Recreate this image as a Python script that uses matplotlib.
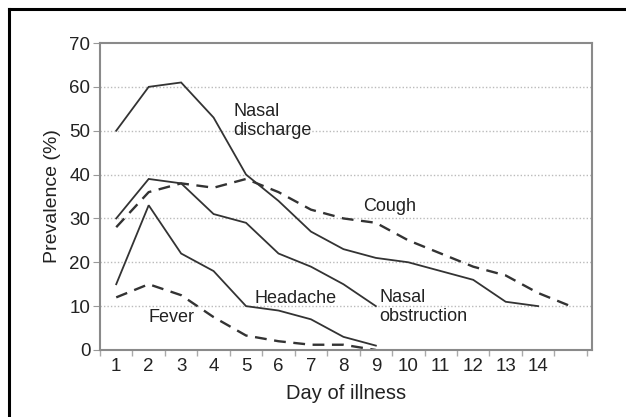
import matplotlib
matplotlib.use("Agg")
import matplotlib.pyplot as plt
from matplotlib.lines import Line2D

plt.rcParams['font.family'] = ['Liberation Sans', 'DejaVu Sans']

days = list(range(1, 16))
nasal_discharge = [50, 60, 61, 53, 40, 34, 27, 23, 21, 20, 18, 16, 11, 10]
nasal_obstruction = [30, 39, 38, 31, 29, 22, 19, 15, 10]
headache = [15, 33, 22, 18, 10, 9, 7, 3, 1]
cough = [28, 36, 38, 37, 39, 36, 32, 30, 29, 25, 22, 19, 17, 13, 10]
fever = [12, 15, 12.5, 7.5, 3.3, 2, 1.2, 1.2, 0]
x_tick_labels = [str(d) for d in range(1, 15)]
y_ticks = [0, 10, 20, 30, 40, 50, 60, 70]

fig = plt.figure(figsize=(6.26, 4.17), dpi=100)
ax = fig.add_axes([100/626, 1-350/417, 492/626, 307/417])

line_col = '#333333'
solid_kw = dict(color=line_col, lw=1.3, solid_joinstyle='miter')
dash_kw = dict(color=line_col, lw=1.7, linestyle=(0, (5, 3.2)))

ax.plot(days[:len(nasal_discharge)], nasal_discharge, **solid_kw)
ax.plot(days[:len(nasal_obstruction)], nasal_obstruction, **solid_kw)
ax.plot(days[:len(headache)], headache, **solid_kw)
ax.plot(days[:len(cough)], cough, **dash_kw)
ax.plot(days[:len(fever)], fever, **dash_kw)

ax.set_xlim(0.5, 15.66)
ax.set_ylim(0, 70)
ax.set_yticks(y_ticks)
ax.set_xticks(range(1, 15))
ax.set_xticklabels(x_tick_labels)
ax.set_xticks([i + 0.5 for i in range(0, 16)], minor=True)
ax.tick_params(axis='x', which='major', length=0, labelsize=13.5, pad=6, colors='#222222')
ax.tick_params(axis='x', which='minor', length=4, color='#aaaaaa', width=1)
ax.tick_params(axis='y', which='major', length=5, color='#999999', labelsize=13.5, pad=2, labelcolor='#222222')

for y in y_ticks[1:-1]:
    ax.axhline(y, color='#bbbbbb', lw=1, linestyle=(0, (1, 1.5)), zorder=0)

for s in ax.spines.values():
    s.set_color('#8a8a8a')
    s.set_linewidth(1.5)

ax.set_xlabel('Day of illness', fontsize=14.5, labelpad=6, color='#222222')
ax.set_ylabel('Prevalence (%)', fontsize=14, labelpad=6, color='#222222')

tkw = dict(fontsize=13, color='#222222', va='center', ha='left')
ax.text(4.6, 52.2, 'Nasal\ndischarge', linespacing=1.15, **tkw)
ax.text(8.6, 32.7, 'Cough', **tkw)
ax.text(5.25, 11.8, 'Headache', **tkw)
ax.text(2.0, 7.5, 'Fever', **tkw)
ax.text(9.1, 9.8, 'Nasal\nobstruction', linespacing=1.15, **tkw)

# outer frame (left and top edges)
fig.add_artist(Line2D([9/626, 9/626], [0, 1-8.5/417], color='black', lw=2.2, transform=fig.transFigure))
fig.add_artist(Line2D([9/626, 1], [1-8.5/417, 1-8.5/417], color='black', lw=2.2, transform=fig.transFigure))

fig.savefig('out.png', dpi=100)
